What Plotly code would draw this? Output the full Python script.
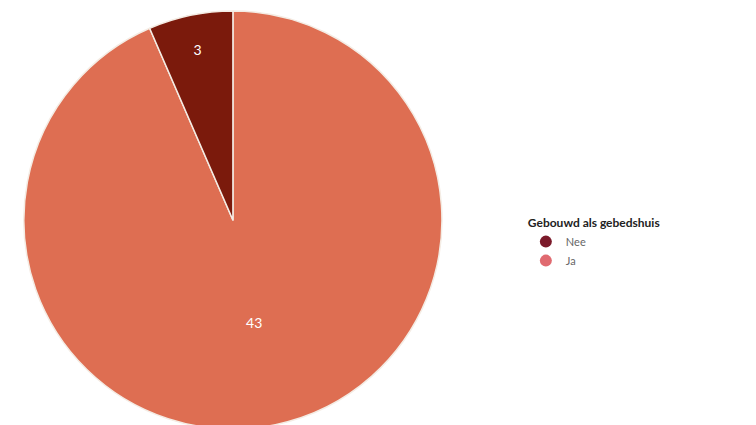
import plotly.graph_objects as go

labels = ["Nee", "Ja"]
values = [3, 43]
colors = ["#7b1a0c", "#de6e52"]
legend_colors = ["#7b1a2a", "#e06a70"]
legend_title = "Gebouwd als gebedshuis"

fig = go.Figure()

# drawn in reverse so the small slice sits just left of 12 o'clock
fig.add_trace(go.Pie(
    labels=labels[::-1],
    values=values[::-1],
    sort=False,
    direction="clockwise",
    rotation=0,
    marker=dict(colors=colors[::-1], line=dict(color="#f4ece4", width=1.5)),
    textinfo="value",
    textposition="inside",
    insidetextorientation="horizontal",
    textfont=dict(color="white", size=14, family="Lato"),
    showlegend=False,
    hoverinfo="label+value",
    domain=dict(x=[0.021, 0.574], y=[0, 1]),
))

# legend entries with round markers
for name, c in zip(labels, legend_colors):
    fig.add_trace(go.Scatter(
        x=[None], y=[None],
        mode="markers",
        name=name,
        marker=dict(color=c, size=10, symbol="circle"),
    ))

fig.update_layout(
    width=756,
    height=425,
    margin=dict(l=0, r=0, t=0, b=1),
    paper_bgcolor="white",
    plot_bgcolor="white",
    xaxis=dict(visible=False),
    yaxis=dict(visible=False),
    legend=dict(
        x=0.685,
        y=0.52,
        xanchor="left",
        yanchor="top",
        title=dict(text="<b>" + legend_title + "</b>", font=dict(size=12, color="#222", family="Lato")),
        font=dict(size=11, color="#666", family="Lato"),
        itemsizing="constant",
        tracegroupgap=0,
    ),
)

fig.write_html("out.html")
